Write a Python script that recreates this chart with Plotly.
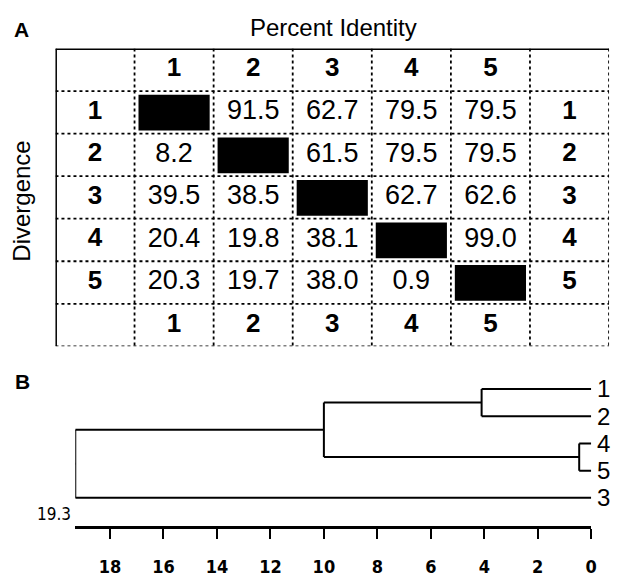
import plotly.graph_objects as go

W, H = 620, 577

# ---------------- data ----------------
seq_labels = ["1", "2", "3", "4", "5"]
# percent identity (upper triangle), row i -> columns
identity_r1 = [None, 91.5, 62.7, 79.5, 79.5]
identity_r2 = [None, None, 61.5, 79.5, 79.5]
identity_r3 = [None, None, None, 62.7, 62.6]
identity_r4 = [None, None, None, None, 99.0]
identity_r5 = [None, None, None, None, None]
# divergence (lower triangle)
diverg_r1 = [None, None, None, None, None]
diverg_r2 = [8.2, None, None, None, None]
diverg_r3 = [39.5, 38.5, None, None, None]
diverg_r4 = [20.4, 19.8, 38.1, None, None]
diverg_r5 = [20.3, 19.7, 38.0, 0.9, None]

# dendrogram (UPGMA-style merges)
leaf_order = ["1", "2", "4", "5", "3"]
merge_a = ["1", "4", "n0", "n2"]
merge_b = ["2", "5", "n1", "3"]
merge_height = [4.1, 0.45, 10.0, 19.3]
tick_vals = [18, 16, 14, 12, 10, 8, 6, 4, 2, 0]
root_label = "19.3"

identity = [identity_r1, identity_r2, identity_r3, identity_r4, identity_r5]
divergence = [diverg_r1, diverg_r2, diverg_r3, diverg_r4, diverg_r5]

# ---------------- helpers (page pixel -> paper fraction) ----------------
def px(x):
    return x / W

def py(y):
    return 1 - y / H

FONT = "Liberation Sans, Arial, sans-serif"
NARROW = "Liberation Sans Narrow, Arial Narrow, DejaVu Sans Condensed, sans-serif"

fig = go.Figure()

# ---------------- table (panel A) ----------------
n = len(seq_labels)
ncols = n + 2
nrows = n + 2

# header texts (bold)
hx, hy, ht = [], [], []
for i, lab in enumerate(seq_labels):
    hx += [i + 1.5, i + 1.5]
    hy += [0.5, nrows - 0.5]
    ht += [lab, lab]
    hx += [0.5, ncols - 0.5]
    hy += [i + 1.5, i + 1.5]
    ht += [lab, lab]
fig.add_trace(go.Scatter(
    x=hx, y=hy, text=ht, mode="text", xaxis="x", yaxis="y",
    textfont=dict(family=FONT, size=26, color="black", weight="bold"),
    hoverinfo="skip", showlegend=False, cliponaxis=False))

# value texts
vx, vy, vt = [], [], []
for i in range(n):
    for j in range(n):
        v = identity[i][j] if identity[i][j] is not None else divergence[i][j]
        if v is not None:
            vx.append(j + 1.5)
            vy.append(i + 1.5)
            vt.append(f"{v:.1f}")
fig.add_trace(go.Scatter(
    x=vx, y=vy, text=vt, mode="text", xaxis="x", yaxis="y",
    textfont=dict(family=FONT, size=27, color="black"),
    hoverinfo="skip", showlegend=False, cliponaxis=False))

shapes = []
# black diagonal cells
for i in range(n):
    shapes.append(dict(type="rect", xref="x", yref="y",
                       x0=i + 1 + 0.05, x1=i + 2 - 0.05,
                       y0=i + 1 + 0.09, y1=i + 2 - 0.07,
                       fillcolor="black", line=dict(width=0)))
# dotted grid lines
for c in range(1, ncols + 1):
    shapes.append(dict(type="line", xref="x", yref="y", x0=c, x1=c, y0=0, y1=nrows,
                       line=dict(color="black", width=1.8, dash="dot")))
for r in range(1, nrows + 1):
    shapes.append(dict(type="line", xref="x", yref="y", x0=0, x1=ncols, y0=r, y1=r,
                       line=dict(color="black", width=1.8, dash="dot")))
# thick top and left borders
shapes.append(dict(type="line", xref="x", yref="y", x0=0, x1=ncols, y0=0, y1=0,
                   line=dict(color="black", width=3)))
shapes.append(dict(type="line", xref="x", yref="y", x0=0, x1=0, y0=0, y1=nrows,
                   line=dict(color="black", width=3)))

# ---------------- dendrogram (panel B) ----------------
ypos = {lab: k for k, lab in enumerate(leaf_order)}
xpos = {lab: 0.0 for lab in leaf_order}
lx, ly = [], []
for k, (a, b, h) in enumerate(zip(merge_a, merge_b, merge_height)):
    for ch in (a, b):
        lx += [xpos[ch], h, None]
        ly += [ypos[ch], ypos[ch], None]
    lx += [h, h, None]
    ly += [ypos[a], ypos[b], None]
    node = f"n{k}"
    ypos[node] = (ypos[a] + ypos[b]) / 2
    xpos[node] = h
root = f"n{len(merge_height) - 1}"
lx += [xpos[root], xpos[root] + 0.3, None]
ly += [ypos[root], ypos[root], None]

fig.add_trace(go.Scatter(
    x=lx, y=ly, mode="lines", xaxis="x2", yaxis="y2",
    line=dict(color="black", width=2), hoverinfo="skip",
    showlegend=False, cliponaxis=False))

annotations = [
    dict(text="<b>A</b>", x=px(22), y=py(30), xref="paper", yref="paper",
         xanchor="center", yanchor="middle",
         showarrow=False, font=dict(family=FONT, size=21, color="black")),
    dict(text="<b>B</b>", x=px(23), y=py(386), xref="paper", yref="paper",
         xanchor="center", yanchor="middle",
         showarrow=False, font=dict(family=FONT, size=21, color="black")),
    dict(text="Percent Identity", x=px(337), y=py(28), xref="paper", yref="paper",
         xanchor="center", yanchor="middle",
         showarrow=False, font=dict(family=FONT, size=24, color="black")),
    dict(text="Divergence", x=px(22), y=py(203), xref="paper", yref="paper",
         xanchor="center", yanchor="middle", textangle=-90, showarrow=False,
         font=dict(family=FONT, size=24, color="black")),
    dict(text=root_label, x=merge_height[-1], y=5.05, xref="x2", yref="y2",
         xanchor="right", yanchor="middle", xshift=-2, yshift=12, showarrow=False,
         font=dict(family=NARROW, size=17, color="black")),
]
# leaf labels at right of the leaves (kept fully inside the page)
for lab in leaf_order:
    annotations.append(dict(text=lab, x=0, y=ypos[lab], xref="x2", yref="y2",
                            xanchor="left", yanchor="middle", xshift=4,
                            showarrow=False,
                            font=dict(family=FONT, size=24, color="black")))

fig.update_layout(
    width=W, height=H,
    margin=dict(l=0, r=0, t=0, b=0),
    paper_bgcolor="white", plot_bgcolor="white",
    showlegend=False,
    shapes=shapes,
    xaxis=dict(domain=[px(56), px(615)], range=[0, ncols], visible=False, fixedrange=True),
    yaxis=dict(domain=[py(350), py(49)], range=[nrows, 0], visible=False, fixedrange=True),
    xaxis2=dict(domain=[px(76), px(597)], range=[merge_height[-1], 0], anchor="y2",
                showline=True, linecolor="black", linewidth=2.5,
                ticks="outside", ticklen=10, tickwidth=2, tickcolor="black",
                tickvals=tick_vals, ticktext=[str(t) for t in tick_vals],
                tickfont=dict(family=NARROW, size=18, color="black", weight="bold"),
                ticklabelstandoff=12,
                showgrid=False, zeroline=False, fixedrange=True),
    yaxis2=dict(domain=[py(532), py(379.25)], range=[5.05, -0.5], anchor="x2",
                visible=False, fixedrange=True),
    annotations=annotations,
)

# remove the default 8px body margin so the 620x577 figure fills the window exactly
fig.write_html(
    "out.html",
    config={"displayModeBar": False},
    post_script="document.body.style.margin='0px';document.body.style.overflow='hidden';",
)
